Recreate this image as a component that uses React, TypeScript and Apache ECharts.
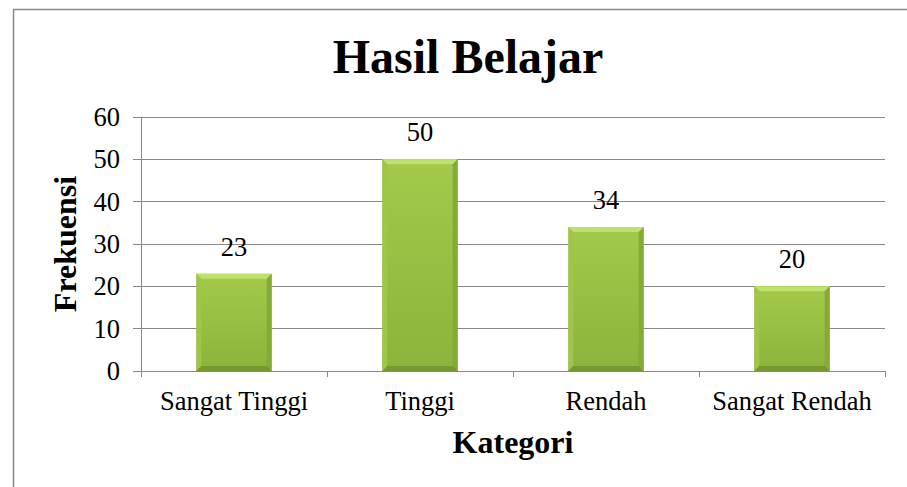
import React, { useEffect, useRef } from "react";
import * as echarts from "echarts";

const categories = ["Sangat Tinggi", "Tinggi", "Rendah", "Sangat Rendah"];
const frekuensi = [23, 50, 34, 20];
const yTicks = { min: 0, max: 60, interval: 10 };
const titleText = "Hasil Belajar";
const yName = "Frekuensi";
const xName = "Kategori";

const SERIF = "Times New Roman, Liberation Serif, serif";

export default function App() {
  const ref = useRef<HTMLDivElement>(null);
  useEffect(() => {
    if (!ref.current) return;
    const chart = echarts.init(ref.current, undefined, { renderer: "svg" });
    const renderItem = (params: any, api: any) => {
      const idx = api.value(0);
      const val = api.value(1);
      const top = api.coord([idx, val]);
      const base = api.coord([idx, 0]);
      const bw = api.size([1, 0])[0] * 0.405;
      const x0 = top[0] - bw / 2;
      const x1 = top[0] + bw / 2;
      const y0 = top[1];
      const y1 = base[1];
      const b = 5;
      return {
        type: "group",
        children: [
          {
            type: "rect",
            shape: { x: x0, y: y0, width: bw, height: y1 - y0 },
            style: {
              fill: new echarts.graphic.LinearGradient(0, 0, 0, 1, [
                { offset: 0, color: "#a4ca4a" },
                { offset: 1, color: "#8cb33b" },
              ]),
            },
          },
          {
            type: "polygon",
            shape: { points: [[x0, y0], [x1, y0], [x1 - b, y0 + b], [x0 + b, y0 + b]] },
            style: { fill: "#bfe06c" },
          },
          {
            type: "polygon",
            shape: { points: [[x0, y0], [x0 + b, y0 + b], [x0 + b, y1 - b], [x0, y1]] },
            style: { fill: "#9fc648" },
          },
          {
            type: "polygon",
            shape: { points: [[x1, y0], [x1 - b, y0 + b], [x1 - b, y1 - b], [x1, y1]] },
            style: { fill: "#86aa3a" },
          },
          {
            type: "polygon",
            shape: { points: [[x0, y1], [x0 + b, y1 - b], [x1 - b, y1 - b], [x1, y1]] },
            style: { fill: "#76992f" },
          },
          {
            type: "text",
            style: {
              x: top[0],
              y: y0 - 27,
              text: String(val),
              fill: "#000",
              fontFamily: SERIF,
              fontSize: 26.5,
              align: "center",
              verticalAlign: "middle",
            },
          },
        ],
      };
    };
    chart.setOption({
      animation: false,
      backgroundColor: "#fff",
      textStyle: { fontFamily: SERIF },
      title: {
        text: titleText,
        left: 463,
        top: 27,
        textAlign: "center",
        textStyle: { fontFamily: SERIF, fontWeight: "bold", fontSize: 48, color: "#000" },
      },
      grid: { left: 141, right: 22, top: 117, bottom: 116 },
      xAxis: {
        type: "category",
        data: categories,
        name: xName,
        nameLocation: "middle",
        nameGap: 55,
        nameTextStyle: { fontFamily: SERIF, fontWeight: "bold", fontSize: 32, color: "#000" },
        axisLine: { lineStyle: { color: "#888", width: 1 } },
        axisTick: { show: true, length: 6, lineStyle: { color: "#888" } },
        axisLabel: { interval: 0, fontFamily: SERIF, fontSize: 26.5, color: "#000", margin: 16 },
      },
      yAxis: {
        type: "value",
        min: yTicks.min,
        max: yTicks.max,
        interval: yTicks.interval,
        name: yName,
        nameLocation: "middle",
        nameGap: 60,
        nameRotate: 90,
        nameTextStyle: { fontFamily: SERIF, fontWeight: "bold", fontSize: 32, color: "#000" },
        axisLine: { show: true, lineStyle: { color: "#888", width: 1 } },
        axisTick: { show: true, length: 8, lineStyle: { color: "#888" } },
        axisLabel: { fontFamily: SERIF, fontSize: 26.5, color: "#000", margin: 21 },
        splitLine: { lineStyle: { color: "#888", width: 1 } },
      },
      graphic: [
        {
          type: "line",
          shape: { x1: 13.5, y1: 9.5, x2: 13.5, y2: 600 },
          style: { stroke: "#888", lineWidth: 1.5 },
        },
        {
          type: "line",
          shape: { x1: 13, y1: 9.5, x2: 1000, y2: 9.5 },
          style: { stroke: "#888", lineWidth: 1.5 },
        },
      ],
      series: [
        {
          type: "custom",
          renderItem,
          data: frekuensi.map((v, i) => [i, v]),
          encode: { x: 0, y: 1 },
        },
      ],
    });
    return () => chart.dispose();
  }, []);
  return <div ref={ref} style={{ width: 907, height: 487, position: "absolute", left: 0, top: 0 }} />;
}
